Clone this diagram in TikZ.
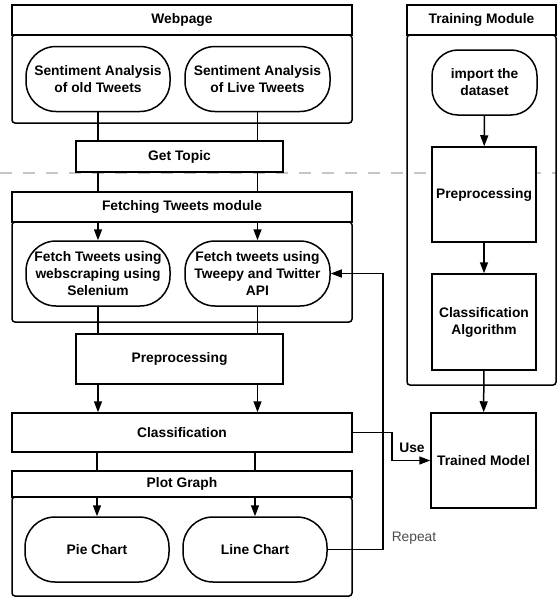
\documentclass[tikz,border=0pt]{standalone}
\usepackage{fontspec}
\setmainfont{Liberation Sans}
\usetikzlibrary{arrows.meta}

\begin{document}
\begin{tikzpicture}[x=1pt,y=-1pt,
  every node/.style={font=\fontsize{13.8}{17}\selectfont\bfseries, align=center, inner sep=1pt},
  head/.style={draw, line width=1.5pt, fill=white, minimum width=340pt, minimum height=30pt},
  body/.style={draw, line width=1.5pt, rounded corners=3pt, minimum width=340pt},
  term/.style={draw, line width=1.5pt, fill=white, rounded corners=30pt, minimum width=144pt, minimum height=65pt},
  proc/.style={draw, line width=1.5pt, fill=white},
  link/.style={line width=1.5pt},
  arr/.style={line width=1.5pt, -{Triangle[length=11pt,width=8pt]}}]
\useasboundingbox (0,0) rectangle (557,597);

% dashed separator
\draw[gray!45, line width=1.8pt, dash pattern=on 12pt off 11pt] (0,173) -- (557,173);

% webpage
\node[body, minimum height=88pt] (webbody) at (182,79) {};
\node[head] (webhead) at (182,20) {Webpage};
\node[term] (oldsa) at (98,79) {Sentiment Analysis\\of old Tweets};
\node[term, minimum width=145pt] (livesa) at (257.5,79) {Sentiment Analysis\\of Live Tweets};
\node[proc, minimum width=207pt, minimum height=31pt] (topic) at (179.5,156.5) {Get Topic};

% fetching tweets
\node[body, minimum height=100pt] (fetbody) at (182,272) {};
\node[head] (fethead) at (182,207) {Fetching Tweets module};
\node[term] (fsel) at (98,273.5) {Fetch Tweets using\\webscraping using\\Selenium};
\node[term, minimum width=145pt] (ftwe) at (257.5,273.5) {Fetch tweets using\\Tweepy and Twitter\\API};
\node[proc, minimum width=207pt, minimum height=50pt] (prep) at (179.5,359) {Preprocessing};
\node[proc, minimum width=340pt, minimum height=39pt] (cls) at (182,432.5) {Classification};

% plot graph
\node[body, minimum height=99pt] (plotbody) at (182,546.5) {};
\node[head, minimum height=26pt] (plothead) at (182,484) {Plot Graph};
\node[term] (pie) at (97,549.5) {Pie Chart};
\node[term] (line) at (255,549.5) {Line Chart};

% training module
\node[body, minimum width=149pt, minimum height=350pt] (trbody) at (481.5,210) {};
\node[head, minimum width=149pt] (trhead) at (481.5,20) {Training Module};
\node[term, minimum width=105pt, rounded corners=26pt] (imp) at (484.5,82.5) {import the\\dataset};
\node[proc, minimum width=104pt, minimum height=95pt] (tprep) at (484,194.5) {Preprocessing};
\node[proc, minimum width=104pt, minimum height=96pt] (talg) at (484,322) {Classification\\Algorithm};
\node[proc, minimum width=105pt, minimum height=95pt] (model) at (483.5,460.5) {Trained Model};

\node (use) at (412,448) {Use};
\node[font=\fontsize{13.8}{17}\selectfont, text=black!70] (rep) at (414,538) {Repeat};

\coordinate (uc) at (392,432.5);
\coordinate (rc) at (383,549.5);

% connectors
\draw[link] (oldsa.south) -- (oldsa.south |- topic.north);
\draw[link] (livesa.south) -- (livesa.south |- topic.north);
\draw[link] (topic.south -| oldsa) -- (fethead.north -| oldsa);
\draw[link] (topic.south -| livesa) -- (fethead.north -| livesa);
\draw[arr] (fethead.south -| fsel) -- (fsel.north);
\draw[arr] (fethead.south -| ftwe) -- (ftwe.north);
\draw[link] (fsel.south) -- (fsel.south |- prep.north);
\draw[link] (ftwe.south) -- (ftwe.south |- prep.north);
\draw[arr] (prep.south -| fsel) -- (cls.north -| fsel);
\draw[arr] (prep.south -| ftwe) -- (cls.north -| ftwe);
\draw[link] (cls.south -| pie) -- (plothead.north -| pie);
\draw[link] (cls.south -| line) -- (plothead.north -| line);
\draw[arr] (plothead.south -| pie) -- (pie.north);
\draw[arr] (plothead.south -| line) -- (line.north);
\draw[arr] (line.east) -- (rc) |- (ftwe.east);
\draw[arr] (cls.east) -- (uc) |- (model.west);
\draw[arr] (imp) -- (tprep);
\draw[arr] (tprep) -- (talg);
\draw[arr] (talg) -- (model);
\end{tikzpicture}
\end{document}
